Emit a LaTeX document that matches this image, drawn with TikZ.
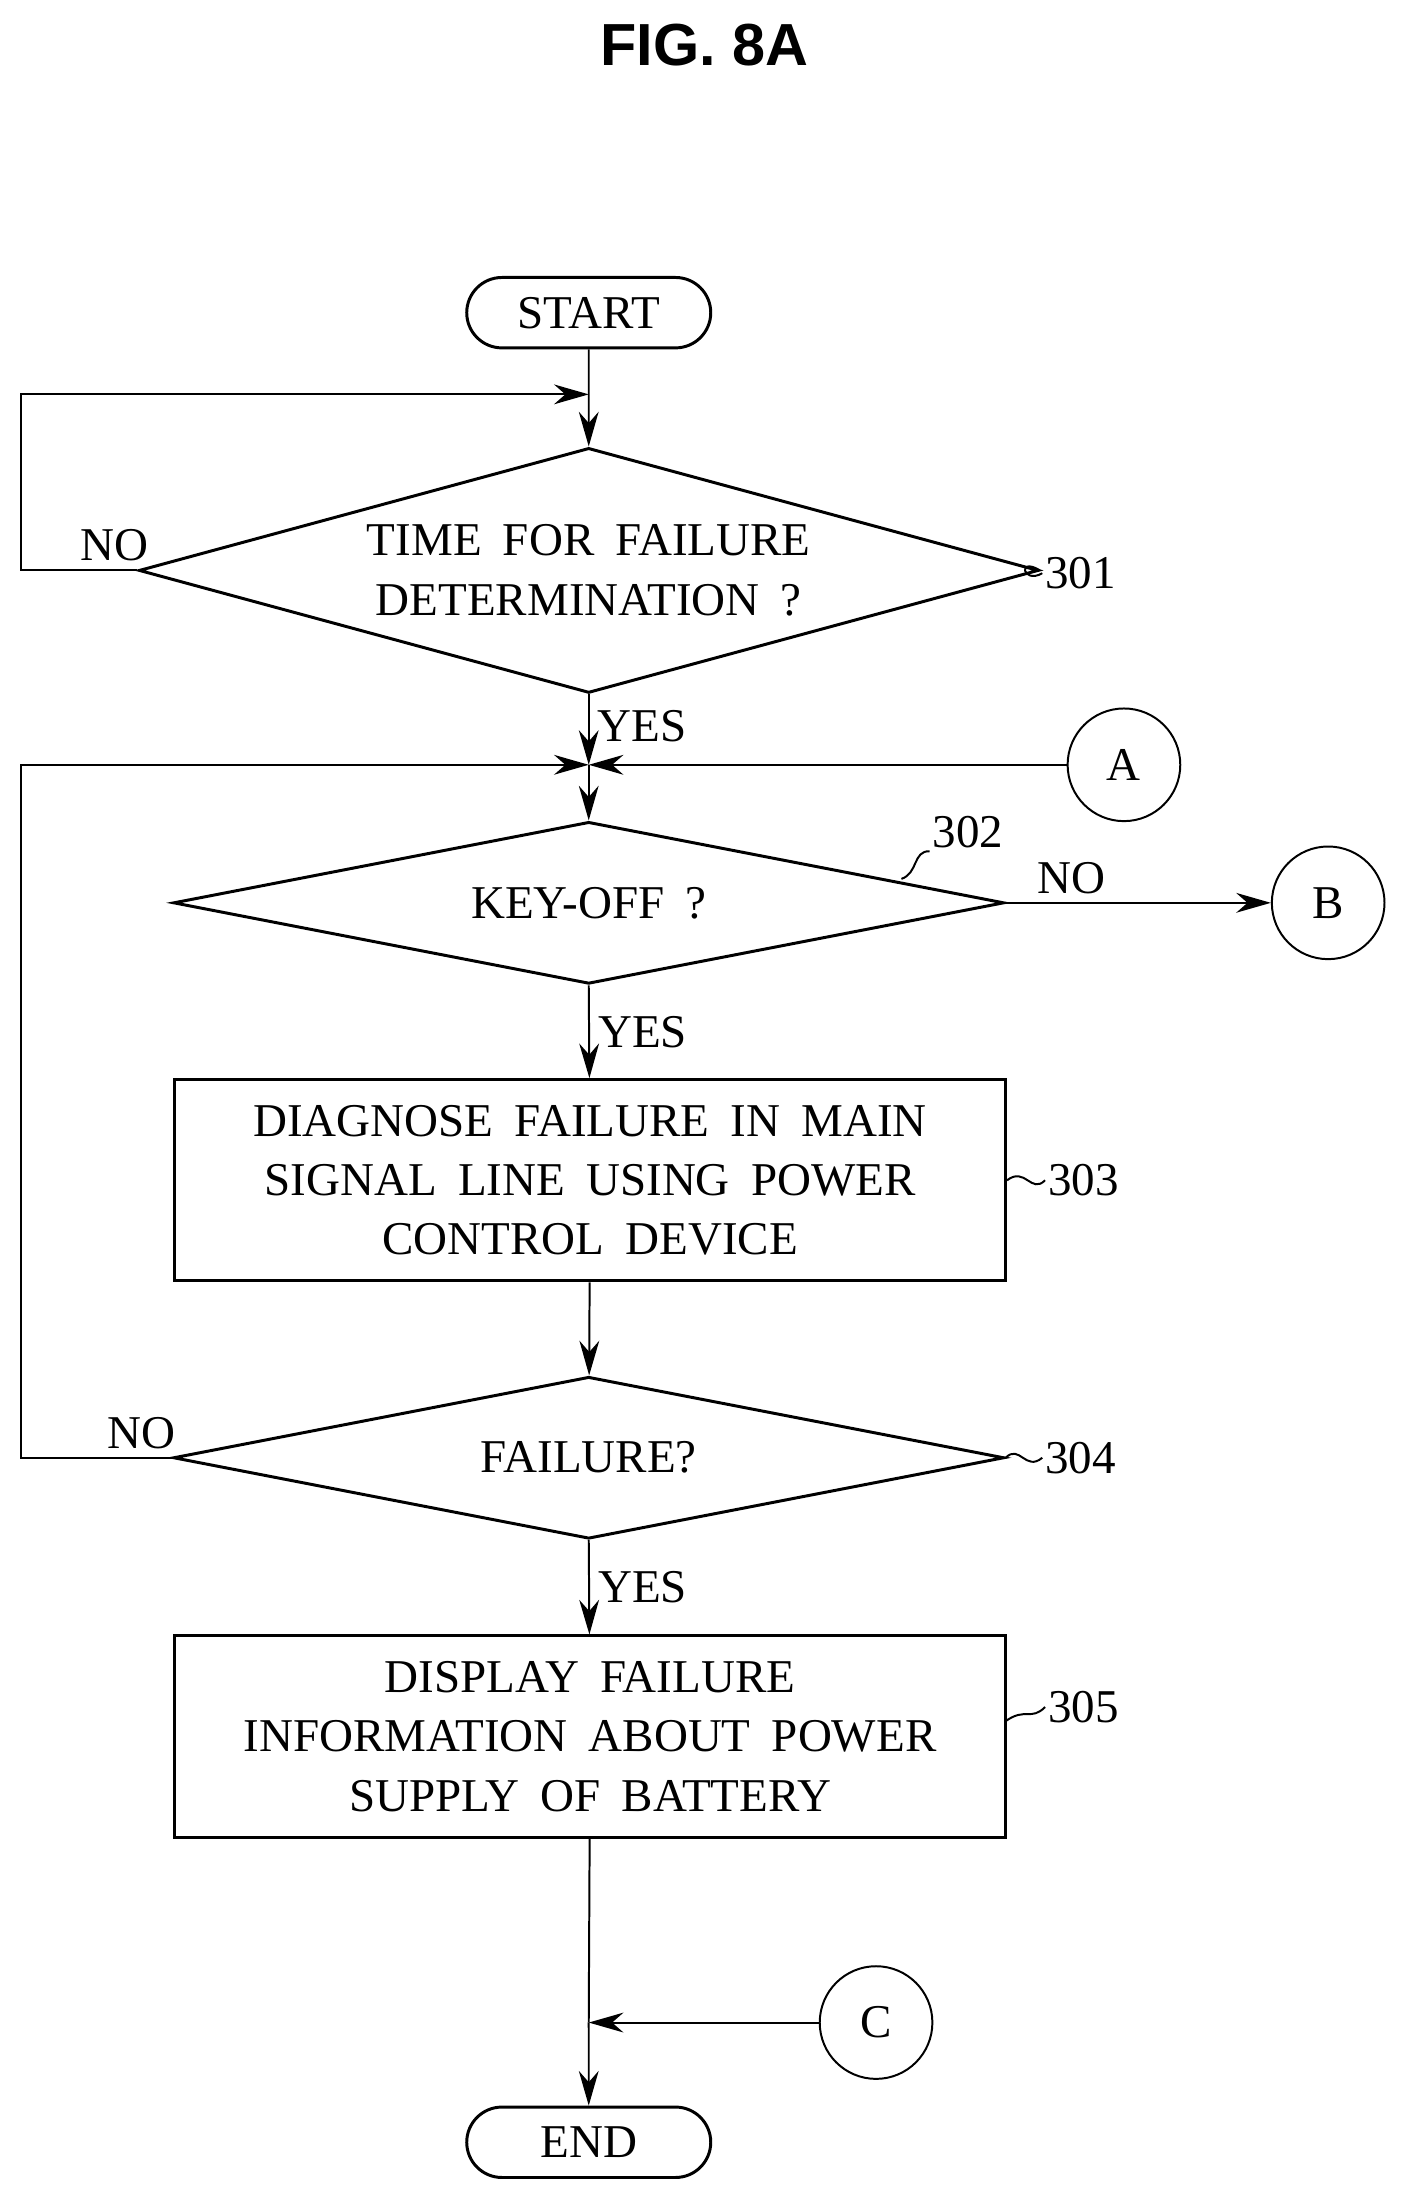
\documentclass[tikz,border=0pt]{standalone}
\usepackage{fontspec}
\setmainfont[WordSpace=1.8]{Liberation Serif}
\newfontfamily\titlefont{Liberation Sans}
\usetikzlibrary{shapes.geometric, shapes.misc, arrows.meta, positioning}

\begin{document}
\begin{tikzpicture}[
        x=0.02cm, y=-0.02cm,
        font=\fontsize{19}{24}\selectfont,
        term/.style={rounded rectangle, draw, very thick, minimum width=3.7cm, minimum height=1cm},
        decision/.style={diamond, draw, very thick, aspect=5, inner sep=0pt, align=center},
        process/.style={rectangle, draw, very thick, minimum width=11.8cm, minimum height=2.86cm, align=center},
        conn/.style={circle, draw, thick, minimum size=1.6cm, inner sep=0pt},
        arrow/.style={-{Stealth[length=14pt,width=8pt]}, thick},
        line/.style={thick},
        tag/.style={anchor=west, inner sep=1pt}
    ]
    \useasboundingbox (0,0) rectangle (1000,1562);

    % --- Title ---
    \node[font=\titlefont\bfseries\fontsize{24}{28}\selectfont] (title) at (500,32) {FIG. 8A};

    % --- Nodes ---
    \node[term] (start) at (418,222) {START};
    \node[decision, minimum width=10.7cm, minimum height=3.48cm] (d301) at (418,405) {TIME FOR FAILURE\\DETERMINATION ?};
    \coordinate (jA) at (418,543);
    \node[conn] (A) at (798,543) {A};
    \node[decision, minimum width=11.8cm, minimum height=2.3cm] (d302) at (418,641) {KEY-OFF ?};
    \node[conn] (B) at (943,641) {B};
    \node[process] (s303) at (419,838) {DIAGNOSE FAILURE IN MAIN\\SIGNAL LINE USING POWER\\CONTROL DEVICE};
    \node[decision, minimum width=11.8cm, minimum height=2.3cm] (d304) at (418,1035) {FAILURE?};
    \node[process] (s305) at (419,1233) {DISPLAY FAILURE\\INFORMATION ABOUT POWER\\SUPPLY OF BATTERY};
    \coordinate (jC) at (418,1436);
    \node[conn] (C) at (622,1436) {C};
    \node[term] (end) at (418,1521) {END};

    % --- Reference numerals ---
    \node[tag] (n301) at (740,407) {301};
    \node[tag] (n302) at (660,591) {302};
    \node[tag] (n303) at (742,838) {303};
    \node[tag] (n304) at (740,1035) {304};
    \node[tag] (n305) at (742,1212) {305};
    \draw[line] (d301.east) .. controls (722,395) and (726,415) .. (n301.west);
    \draw[line] (640,624) .. controls (652,620) and (648,604) .. (n302.south west);
    \draw[line] (s303.east) .. controls (728,828) and (732,848) .. (n303.west);
    \draw[line] (d304.east) .. controls (724,1025) and (728,1045) .. (n304.west);
    \draw[line] (714,1222) .. controls (728,1212) and (732,1222) .. (n305.west);

    % --- Connectors ---
    \coordinate (top301) at (418,280);
    \draw[arrow] (start) -- (d301);
    \draw[arrow] (d301.west) -- node[above, pos=0.2] {NO} (15,405) -- (15,280) -- (top301);
    \draw[arrow] (d301.south) -- node[right, pos=0.45] {YES} (jA);
    \draw[arrow] (A) -- (jA);
    \draw[arrow] (d304.west) -- node[above, pos=0.2] {NO} (15,1035) -- (15,543) -- (jA);
    \draw[arrow] (jA) -- (d302);
    \draw[arrow] (d302.east) -- node[above, pos=0.25] {NO} (B);
    \draw[arrow] (d302.south) -- node[right] {YES} (s303);
    \draw[arrow] (s303) -- (d304);
    \draw[arrow] (d304.south) -- node[right] {YES} (s305);
    \draw[line] (s305) -- (jC);
    \draw[arrow] (C) -- (jC);
    \draw[arrow] (jC) -- (end);
\end{tikzpicture}
\end{document}
